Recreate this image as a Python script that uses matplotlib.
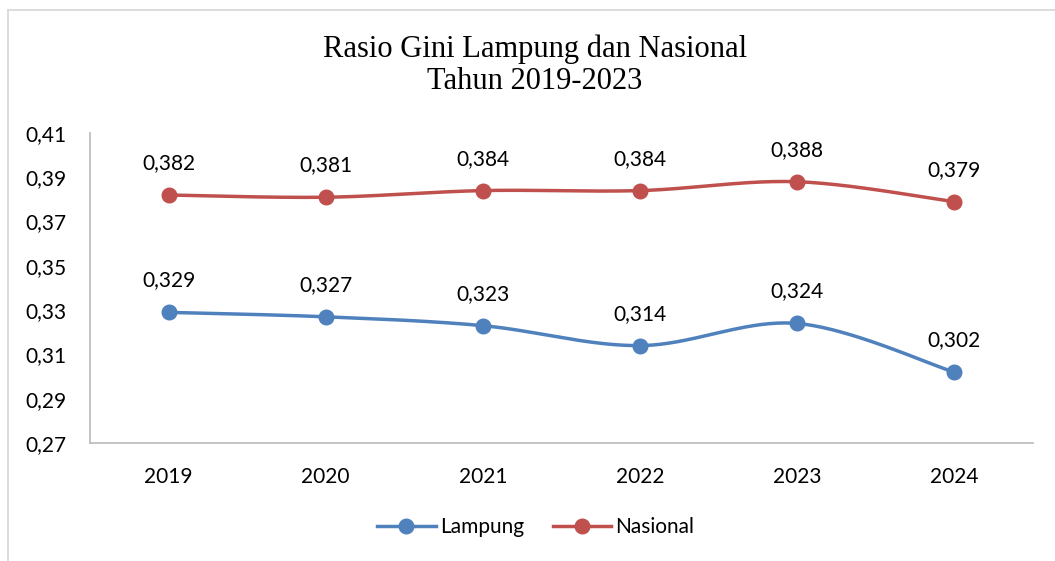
"""Rasio Gini Lampung dan Nasional, line chart in Excel style."""

import matplotlib

matplotlib.use("Agg")
import matplotlib.pyplot as plt
import numpy as np
from matplotlib.lines import Line2D

years = ["2019", "2020", "2021", "2022", "2023", "2024"]
lampung = [0.329, 0.327, 0.323, 0.314, 0.324, 0.302]
nasional = [0.382, 0.381, 0.384, 0.384, 0.388, 0.379]
y_ticks = [0.27, 0.29, 0.31, 0.33, 0.35, 0.37, 0.39, 0.41]

BLUE = "#4F81BD"
RED = "#C0504D"
TEXT_FONT = "Lato"


def smooth(xs, ys, steps=40):
    """Excel-like smoothed line (Catmull-Rom as cubic Bezier)."""
    xs = np.asarray(xs, dtype=float)
    ys = np.asarray(ys, dtype=float)
    px = np.concatenate([[xs[0]], xs, [xs[-1]]])
    py = np.concatenate([[ys[0]], ys, [ys[-1]]])
    out_x, out_y = [], []
    t = np.linspace(0, 1, steps)
    for i in range(1, len(px) - 2):
        p0 = np.array([px[i], py[i]])
        p3 = np.array([px[i + 1], py[i + 1]])
        p1 = p0 + (np.array([px[i + 1], py[i + 1]]) - np.array([px[i - 1], py[i - 1]])) / 6
        p2 = p3 - (np.array([px[i + 2], py[i + 2]]) - np.array([px[i], py[i]])) / 6
        b = ((1 - t) ** 3)[:, None] * p0 + (3 * (1 - t) ** 2 * t)[:, None] * p1 \
            + (3 * (1 - t) * t ** 2)[:, None] * p2 + (t ** 3)[:, None] * p3
        out_x.extend(b[:, 0])
        out_y.extend(b[:, 1])
    return np.array(out_x), np.array(out_y)


fig = plt.figure(figsize=(10.55, 5.61), dpi=100)
ax = fig.add_axes([0.0853, 0.2103, 0.8937, 0.5526])

x = np.arange(len(years))
for values, color, name in [(lampung, BLUE, "Lampung"), (nasional, RED, "Nasional")]:
    sx, sy = smooth(x, values)
    ax.plot(sx, sy, color=color, linewidth=2.5, solid_capstyle="round", zorder=2)
    ax.plot(x, values, "o", color=color, markersize=10.5, zorder=3)
    for xi, v in zip(x, values):
        ax.annotate(
            f"{v:.3f}".replace(".", ","),
            (xi, v),
            xytext=(0, 23),
            textcoords="offset points",
            ha="center",
            va="center",
            fontsize=15,
            family=TEXT_FONT,
            color="#000000",
        )

ax.set_xlim(-0.5, len(years) - 0.5)
ax.set_ylim(y_ticks[0], y_ticks[-1])
ax.set_yticks(y_ticks)
ax.set_yticklabels([f"{v:.2f}".replace(".", ",") for v in y_ticks])
ax.set_xticks(x)
ax.set_xticklabels(years)
for label in ax.get_xticklabels() + ax.get_yticklabels():
    label.set_family(TEXT_FONT)
    label.set_fontsize(15)
ax.tick_params(axis="both", length=0)
ax.tick_params(axis="y", pad=17)
ax.tick_params(axis="x", pad=17)
for side in ["top", "right"]:
    ax.spines[side].set_visible(False)
for side in ["left", "bottom"]:
    ax.spines[side].set_color("#BFBFBF")
    ax.spines[side].set_linewidth(1.3)

fig.text(
    0.507,
    0.884,
    "Rasio Gini Lampung dan Nasional\nTahun 2019-2023",
    ha="center",
    va="center",
    fontsize=22,
    family="Liberation Serif",
    linespacing=1.15,
)

handles = [
    Line2D([], [], color=BLUE, linewidth=2.5, marker="o", markersize=10.5),
    Line2D([], [], color=RED, linewidth=2.5, marker="o", markersize=10.5),
]
fig.legend(
    handles,
    ["Lampung", "Nasional"],
    loc="center",
    bbox_to_anchor=(0.508, 0.06),
    ncol=2,
    frameon=False,
    prop={"family": TEXT_FONT, "size": 15},
    handlelength=2.8,
    handletextpad=0.2,
    columnspacing=1.4,
)

# chart frame, cropped at right and bottom
fig.add_artist(Line2D([8 / 1055, 1.0], [1 - 10 / 561] * 2, color="#D9D9D9", linewidth=1.3))
fig.add_artist(Line2D([8 / 1055] * 2, [0.0, 1 - 10 / 561], color="#D9D9D9", linewidth=1.3))

fig.savefig("out.png", dpi=100)
